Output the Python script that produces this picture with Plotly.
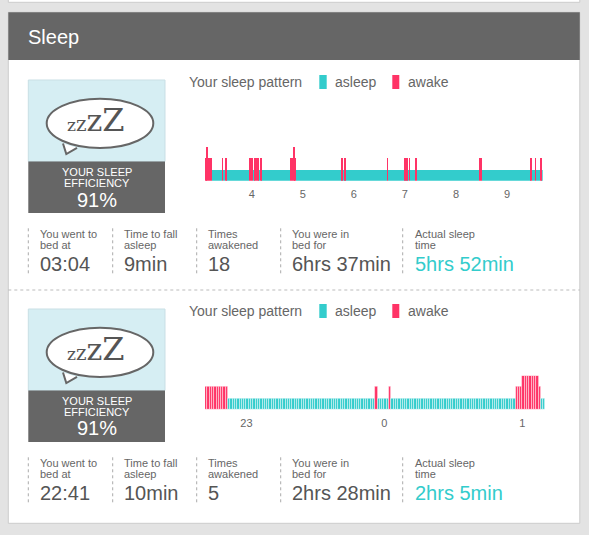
import plotly.graph_objects as go

W, H = 589, 535

ASLEEP = "#33cccc"
AWAKE = "#ff3366"
FONT = "Liberation Sans"

# ---- night 1 (minutes counted from the first minute drawn) ----
n1_start = 3 * 60 + 5          # 03:05
n1_minutes = 397
n1_awake_start = [0, 2, 3, 20, 24, 52, 58, 65, 100, 104, 105, 161, 164, 214, 235, 237, 240, 247, 322, 383, 388, 394]
n1_awake_len = [2, 1, 5, 1, 1, 5, 5, 1, 4, 1, 2, 1, 1, 1, 1, 1, 1, 2, 4, 2, 1, 2]
n1_awake_level = [2, 3, 2, 2, 2, 2, 2, 2, 2, 3, 2, 2, 2, 2, 2, 2, 2, 2, 2, 2, 2, 2]
n1_ticks = [4, 5, 6, 7, 8, 9]
n1_ticktext = ["4", "5", "6", "7", "8", "9"]
n1_stats = ["03:04", "9min", "18", "6hrs 37min", "5hrs 52min"]

# ---- night 2 ----
n2_start = 22 * 60 + 42        # 22:42
n2_minutes = 148
n2_awake_start = [0, 74, 80, 135, 138, 145]
n2_awake_len = [10, 1, 1, 3, 7, 1]
n2_awake_level = [2, 2, 2, 2, 3, 2]
n2_ticks = [23, 24, 25]
n2_ticktext = ["23", "0", "1"]
n2_stats = ["22:41", "10min", "5", "2hrs 28min", "2hrs 5min"]

efficiency = ["91%", "91%"]
stat_labels = [("You went to", "bed at"), ("Time to fall", "asleep"), ("Times", "awakened"),
               ("You were in", "bed for"), ("Actual sleep", "time")]


def X(px):
    return px / W


def Y(py):
    return 1 - py / H


def minute_levels(total, starts, lens, lvls):
    lv = [1] * total
    for s, n, l in zip(starts, lens, lvls):
        for m in range(s, s + n):
            lv[m] = l
    return lv


def runs(lv):
    out = []
    i = 0
    while i < len(lv):
        j = i
        while j < len(lv) and lv[j] == lv[i]:
            j += 1
        out.append((i, j - i, lv[i]))
        i = j
    return out


def rect(x0, y0, x1, y1, fill, line=None, lw=1, dash=None):
    return dict(type="rect", xref="paper", yref="paper", layer="below",
                x0=X(x0), x1=X(x1), y0=Y(y1), y1=Y(y0), fillcolor=fill,
                line=dict(color=line or fill, width=lw if line else 0, dash=dash))


def vline(x, y0, y1, color="#aaaaaa"):
    return dict(type="line", xref="paper", yref="paper", layer="below",
                x0=X(x), x1=X(x), y0=Y(y0), y1=Y(y1),
                line=dict(color=color, width=1, dash="dot"))


def ann(x, y, text, size, color="#666666", xanchor="left", family=FONT):
    return dict(x=X(x), y=Y(y), xref="paper", yref="paper", text=text, showarrow=False,
                xanchor=xanchor, yanchor="middle", borderpad=0,
                xshift=-1 if xanchor == "left" else 0,
                font=dict(size=size, color=color, family=family))


fig = go.Figure()

# night 1: merged runs (a minute is narrower than a pixel here)
lv1 = minute_levels(n1_minutes, n1_awake_start, n1_awake_len, n1_awake_level)
r1 = runs(lv1)
for state, col in [(False, ASLEEP), (True, AWAKE)]:
    rr = [r for r in r1 if (r[2] > 1) == state]
    fig.add_trace(go.Bar(
        x=[(n1_start + s + n / 2) / 60 for s, n, l in rr],
        width=[n / 60 for s, n, l in rr],
        y=[l for s, n, l in rr],
        marker=dict(color=col, line=dict(width=0)),
        xaxis="x", yaxis="y", hoverinfo="skip", showlegend=False))

# night 2: one bar per minute, thin light seams between them
lv2 = minute_levels(n2_minutes, n2_awake_start, n2_awake_len, n2_awake_level)
fig.add_trace(go.Bar(
    x=[(n2_start + m + 0.5) / 60 for m in range(n2_minutes)],
    width=[1 / 60] * n2_minutes,
    y=lv2,
    marker=dict(color=[ASLEEP if l == 1 else AWAKE for l in lv2],
                line=dict(width=0.8, color="rgba(255,255,255,0.55)")),
    xaxis="x2", yaxis="y2", hoverinfo="skip", showlegend=False))

shapes = []
annotations = []

# card
shapes.append(rect(8.3, -10, 579.8, 2.3, "white", "#cccccc"))
shapes.append(rect(8.3, 12.3, 579.8, 523.3, "white", "#cccccc"))
shapes.append(rect(8.3, 12.3, 579.8, 60, "#666666"))
annotations.append(ann(28, 37, "Sleep", 20, "white"))

# section divider
shapes.append(dict(type="line", xref="paper", yref="paper", layer="below",
                   x0=X(8.3), x1=X(579.8), y0=Y(290), y1=Y(290),
                   line=dict(color="#bbbbbb", width=1, dash="dot")))

sep_x = [28.3, 112.7, 196.7, 280.7, 402.7]
txt_x = [40, 124, 208, 292.3, 415]

for k, stats in enumerate([n1_stats, n2_stats]):
    dy = 229 * k
    # icon box
    shapes.append(rect(28.3, 80 + dy, 165, 161.5 + dy, "#d6eef3", "#c9dfe5"))
    shapes.append(rect(28.3, 161.5 + dy, 165, 213 + dy, "#666666"))
    # speech bubble
    shapes.append(dict(type="circle", xref="paper", yref="paper", layer="below",
                       x0=X(46.7), x1=X(153.3), y0=Y(148 + dy), y1=Y(98.7 + dy),
                       fillcolor="white", line=dict(color="#666666", width=2)))
    shapes.append(dict(type="path", xref="paper", yref="paper", layer="below",
                       path="M %f,%f L %f,%f L %f,%f" % (X(63), Y(143.5 + dy), X(66.3), Y(154 + dy),
                                                         X(77), Y(147.8 + dy)),
                       fillcolor="white", line=dict(color="#666666", width=2)))
    annotations.append(ann(96, 120 + dy,
                           '<span style="font-size:17px">z</span><span style="font-size:20px">z</span>'
                           '<span style="font-size:30px">z</span><span style="font-size:32px">Z</span>',
                           20, "#555555", "center", "DejaVu Serif"))
    annotations.append(ann(96.7, 172 + dy, "YOUR SLEEP", 11, "white", "center"))
    annotations.append(ann(96.7, 182.5 + dy, "EFFICIENCY", 11, "white", "center"))
    annotations.append(ann(96.7, 199.5 + dy, efficiency[k], 20, "white", "center"))

    # legend row
    annotations.append(ann(189, 82 + dy, "Your sleep pattern", 14))
    shapes.append(rect(319.3, 75 + dy, 326.7, 89 + dy, ASLEEP))
    annotations.append(ann(335, 82 + dy, "asleep", 14))
    shapes.append(rect(392.3, 75 + dy, 399.3, 89 + dy, AWAKE))
    annotations.append(ann(407.7, 82 + dy, "awake", 14))

    # stats row
    for i in range(5):
        shapes.append(vline(sep_x[i], 228.3 + dy, 273.7 + dy))
        annotations.append(ann(txt_x[i], 234.3 + dy, stat_labels[i][0], 11))
        annotations.append(ann(txt_x[i], 245.3 + dy, stat_labels[i][1], 11))
        annotations.append(ann(txt_x[i], 264 + dy, stats[i], 20,
                               ASLEEP if i == 4 else "#555555"))

axis_common = dict(showgrid=False, zeroline=False, showline=False, ticks="",
                   ticklabelstandoff=5,
                   tickfont=dict(size=11, color="#666666", family=FONT), fixedrange=True)

fig.update_layout(
    width=W, height=H,
    margin=dict(l=0, r=0, t=0, b=0),
    paper_bgcolor="#e3e3e3",
    plot_bgcolor="rgba(0,0,0,0)",
    font=dict(family=FONT),
    bargap=0,
    barmode="overlay",
    xaxis=dict(domain=[X(205), X(542.7)], range=[n1_start / 60, (n1_start + n1_minutes) / 60],
               tickvals=n1_ticks, ticktext=n1_ticktext, anchor="y", **axis_common),
    yaxis=dict(domain=[Y(180.7), Y(146.7)], range=[0, 3], visible=False, fixedrange=True),
    xaxis2=dict(domain=[X(205), X(545.4)], range=[n2_start / 60, (n2_start + n2_minutes) / 60],
                tickvals=n2_ticks, ticktext=n2_ticktext, anchor="y2", **axis_common),
    yaxis2=dict(domain=[Y(409.7), Y(375.7)], range=[0, 3], visible=False, fixedrange=True),
    shapes=shapes,
    annotations=annotations,
)

fig.write_html("out.html", config={"displayModeBar": False},
               post_script="document.body.style.margin='0';document.body.style.overflow='hidden';")
